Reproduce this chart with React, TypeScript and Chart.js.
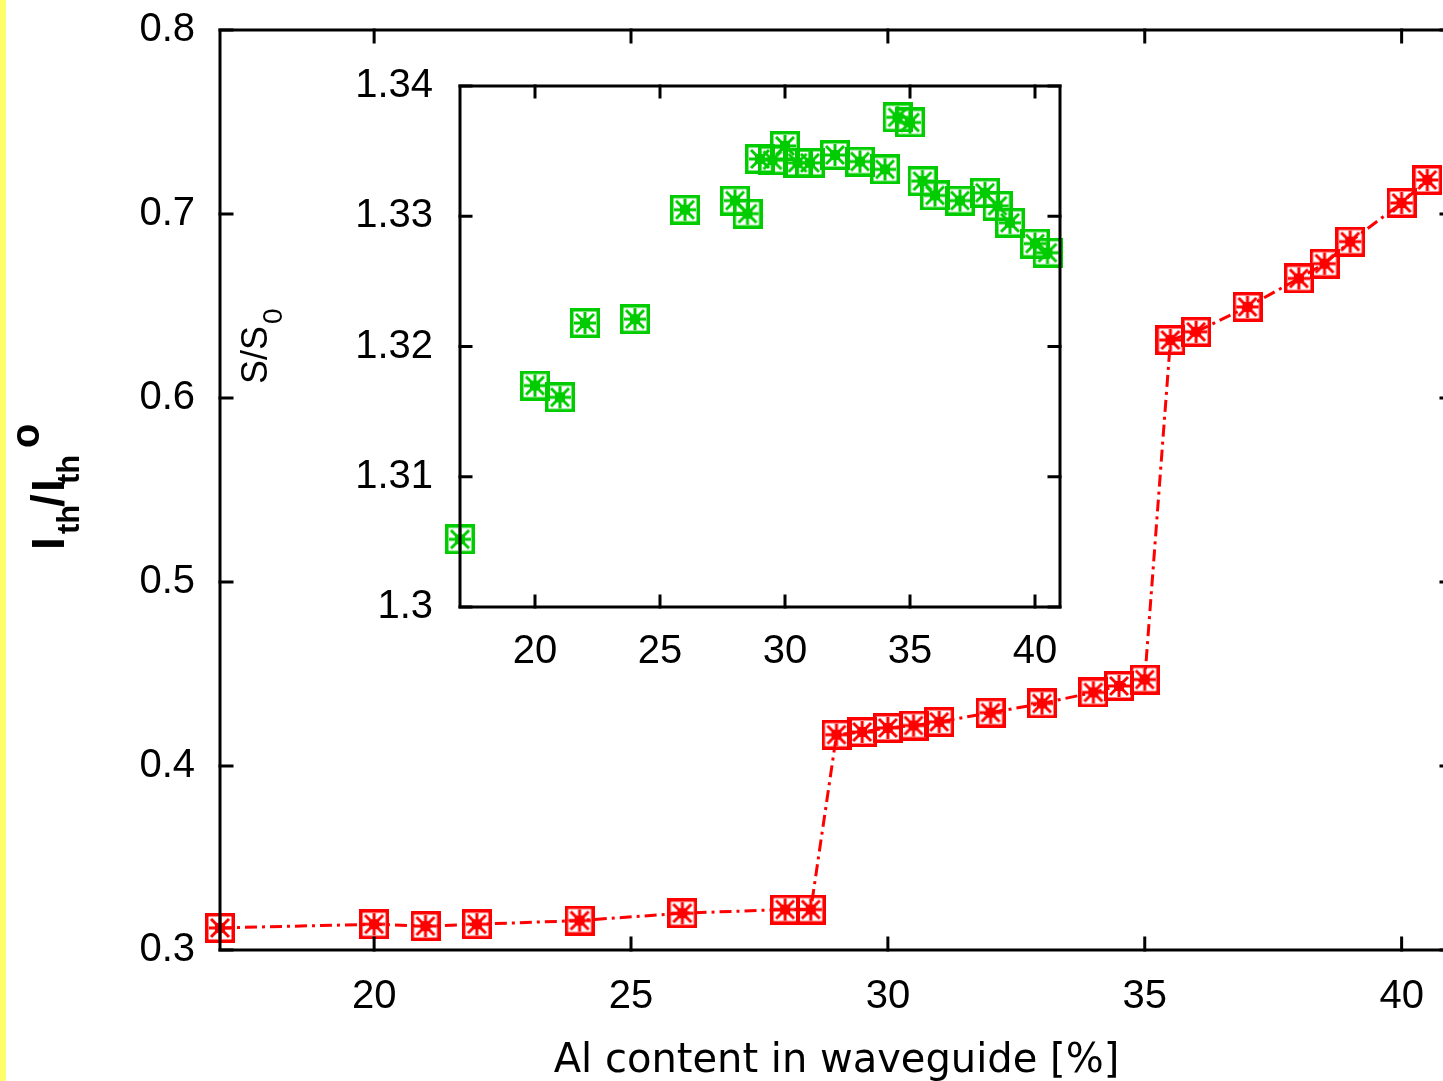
import { useEffect, useRef } from "react";
import { Chart, registerables } from "chart.js";

Chart.register(...registerables);

// Al content in waveguide [%]
const alContent = [17, 20, 21, 22, 24, 26, 28, 28.5, 29, 29.5, 30, 30.5, 31, 32, 33, 34, 34.5, 35, 35.5, 36, 37, 38, 38.5, 39, 40, 40.5];
// I_th / I_th^o (main plot)
const thresholdRatio = [0.312, 0.314, 0.313, 0.314, 0.316, 0.320, 0.322, 0.322, 0.417, 0.4185, 0.4207, 0.422, 0.424, 0.429, 0.434, 0.440, 0.4435, 0.447, 0.6315, 0.636, 0.6495, 0.665, 0.673, 0.685, 0.706, 0.7185];
// S / S_0 (inset)
const slopeRatio = [1.3052, 1.3170, 1.3161, 1.3218, 1.3221, 1.3305, 1.3312, 1.3302, 1.3344, 1.3343, 1.3354, 1.3341, 1.3341, 1.3347, 1.3342, 1.3336, 1.3376, 1.3372, 1.3327, 1.3316, 1.3312, 1.3318, 1.3308, 1.3295, 1.3279, 1.3272];

const mainXTicks = [20, 25, 30, 35, 40];
const mainYTicks = [0.3, 0.4, 0.5, 0.6, 0.7, 0.8];
const insetXTicks = [20, 25, 30, 35, 40];
const insetYTicks = [1.3, 1.31, 1.32, 1.33, 1.34];

const RED = "#ff0000";
const GREEN = "#00cc00";
const TICK_FONT = { family: "Liberation Sans", size: 40 };

function makeMarker(color: string) {
  const c = document.createElement("canvas");
  c.width = 30;
  c.height = 30;
  const g = c.getContext("2d")!;
  g.strokeStyle = color;
  g.fillStyle = color;
  g.lineWidth = 3.5;
  g.strokeRect(1.75, 1.75, 26.5, 26.5);
  g.lineWidth = 3;
  g.beginPath();
  g.moveTo(15, 4); g.lineTo(15, 26);
  g.moveTo(4, 15); g.lineTo(26, 15);
  g.moveTo(6, 6); g.lineTo(24, 24);
  g.moveTo(24, 6); g.lineTo(6, 24);
  g.stroke();
  g.fillRect(10, 10, 10, 10);
  return c;
}

function framePlugin(id: string, tickLen: number, lw: number) {
  return {
    id,
    afterDatasetsDraw(chart: any) {
      const { ctx, chartArea: a, scales } = chart;
      const xs = scales.x, ys = scales.y;
      ctx.save();
      ctx.strokeStyle = "#000";
      ctx.lineWidth = lw;
      ctx.lineCap = "square";
      ctx.strokeRect(a.left, a.top, a.right - a.left, a.bottom - a.top);
      ctx.beginPath();
      for (const t of xs.ticks) {
        const px = xs.getPixelForValue(t.value);
        ctx.moveTo(px, a.bottom); ctx.lineTo(px, a.bottom - tickLen);
        ctx.moveTo(px, a.top); ctx.lineTo(px, a.top + tickLen);
      }
      for (const t of ys.ticks) {
        const py = ys.getPixelForValue(t.value);
        ctx.moveTo(a.left, py); ctx.lineTo(a.left + tickLen, py);
        ctx.moveTo(a.right, py); ctx.lineTo(a.right - tickLen, py);
      }
      ctx.stroke();
      ctx.restore();
    },
  };
}

const axisTitles = {
  id: "axisTitles",
  afterDraw(chart: any) {
    const ctx = chart.ctx;
    // main y title: I_th / I_th^o
    ctx.save();
    ctx.translate(64, 547);
    ctx.rotate(-Math.PI / 2);
    ctx.fillStyle = "#000";
    ctx.textAlign = "left";
    ctx.textBaseline = "alphabetic";
    const big = 'bold 46px "Liberation Sans"';
    const sub = 'bold 31px "Liberation Sans"';
    const sup = 'bold 40px "Liberation Sans"';
    ctx.font = big; ctx.fillText("I", -3, 0);
    ctx.font = sub; ctx.fillText("th", 13, 15);
    ctx.font = big; ctx.fillText("/", 40, 0);
    ctx.font = big; ctx.fillText("I", 55, 0);
    ctx.font = sub; ctx.fillText("th", 63, 15);
    ctx.font = sup; ctx.fillText("o", 99, -25);
    ctx.restore();

    // inset y title: S/S_0
    ctx.save();
    ctx.translate(267, 384);
    ctx.rotate(-Math.PI / 2);
    ctx.fillStyle = "#000";
    ctx.textAlign = "left";
    ctx.textBaseline = "alphabetic";
    ctx.font = '36px "Liberation Sans"';
    ctx.fillText("S/S", 0, 0);
    const w = ctx.measureText("S/S").width;
    ctx.font = '28px "Liberation Sans"';
    ctx.fillText("0", w + 2, 15);
    ctx.restore();
  },
};

export default function App() {
  const mainRef = useRef<HTMLCanvasElement>(null);
  const insetRef = useRef<HTMLCanvasElement>(null);

  useEffect(() => {
    const redMarker = makeMarker(RED);
    const greenMarker = makeMarker(GREEN);

    const main = new Chart(mainRef.current!, {
      type: "scatter",
      data: {
        datasets: [
          {
            data: alContent.map((x, i) => ({ x, y: thresholdRatio[i] })),
            showLine: true,
            borderColor: RED,
            borderWidth: 3,
            borderDash: [12, 5, 3, 5],
            pointStyle: redMarker as any,
            pointRadius: 15,
            pointBorderWidth: 0,
            clip: false as any,
          },
        ],
      },
      options: {
        responsive: false,
        animation: false,
        layout: { autoPadding: false, padding: { left: 0, top: 30, right: 9, bottom: 0 } },
        plugins: { legend: { display: false }, tooltip: { enabled: false } },
        scales: {
          x: {
            type: "linear",
            min: 17,
            max: 41,
            afterBuildTicks: (s: any) => { s.ticks = mainXTicks.map((v) => ({ value: v })); },
            afterFit: (s: any) => { s.height = 131; s.paddingLeft = 0; s.paddingRight = 0; },
            grid: { display: false, drawTicks: false },
            border: { display: false },
            ticks: { padding: 23, color: "#000", font: TICK_FONT, callback: (v: any) => String(v) },
            title: {
              display: true,
              text: "Al content in waveguide [%]",
              color: "#000",
              font: { family: "DejaVu Sans", size: 40, lineHeight: 1 },
              padding: { top: 0, bottom: -1 },
            },
          },
          y: {
            type: "linear",
            min: 0.3,
            max: 0.8,
            afterBuildTicks: (s: any) => { s.ticks = mainYTicks.map((v) => ({ value: v })); },
            afterFit: (s: any) => { s.width = 220; s.paddingTop = 0; s.paddingBottom = 0; },
            grid: { display: false, drawTicks: false },
            border: { display: false },
            ticks: { padding: 25, color: "#000", font: TICK_FONT, callback: (v: any) => Number(v).toFixed(1) },
          },
        },
      },
      plugins: [framePlugin("mainFrame", 12, 3), axisTitles],
    });

    const inset = new Chart(insetRef.current!, {
      type: "scatter",
      data: {
        datasets: [
          {
            data: alContent.map((x, i) => ({ x, y: slopeRatio[i] })),
            showLine: false,
            pointStyle: greenMarker as any,
            pointRadius: 15,
            pointBorderWidth: 0,
            clip: false as any,
          },
        ],
      },
      options: {
        responsive: false,
        animation: false,
        layout: { autoPadding: false, padding: { left: 0, top: 26, right: 60, bottom: 0 } },
        plugins: { legend: { display: false }, tooltip: { enabled: false } },
        scales: {
          x: {
            type: "linear",
            min: 17,
            max: 41,
            afterBuildTicks: (s: any) => { s.ticks = insetXTicks.map((v) => ({ value: v })); },
            afterFit: (s: any) => { s.height = 73; s.paddingLeft = 0; s.paddingRight = 0; },
            grid: { display: false, drawTicks: false },
            border: { display: false },
            ticks: { padding: 21, color: "#000", font: TICK_FONT, callback: (v: any) => String(v) },
          },
          y: {
            type: "linear",
            min: 1.3,
            max: 1.34,
            afterBuildTicks: (s: any) => { s.ticks = insetYTicks.map((v) => ({ value: v })); },
            afterFit: (s: any) => { s.width = 120; s.paddingTop = 0; s.paddingBottom = 0; },
            grid: { display: false, drawTicks: false },
            border: { display: false },
            ticks: { padding: 27, color: "#000", font: TICK_FONT, callback: (v: any) => String(Number(Number(v).toFixed(2))) },
          },
        },
      },
      plugins: [framePlugin("insetFrame", 11, 3)],
    });

    return () => {
      main.destroy();
      inset.destroy();
    };
  }, []);

  return (
    <div style={{ position: "fixed", left: 0, top: 0, width: 1443, height: 1081, overflow: "hidden", background: "#fff" }}>
      <canvas ref={mainRef} width={1462} height={1081} style={{ position: "absolute", left: 0, top: 0 }} />
      <canvas ref={insetRef} width={780} height={620} style={{ position: "absolute", left: 340, top: 60 }} />
      <div style={{ position: "absolute", left: 0, top: 0, width: 6, height: 1081, background: "#ffff6e" }} />
    </div>
  );
}
